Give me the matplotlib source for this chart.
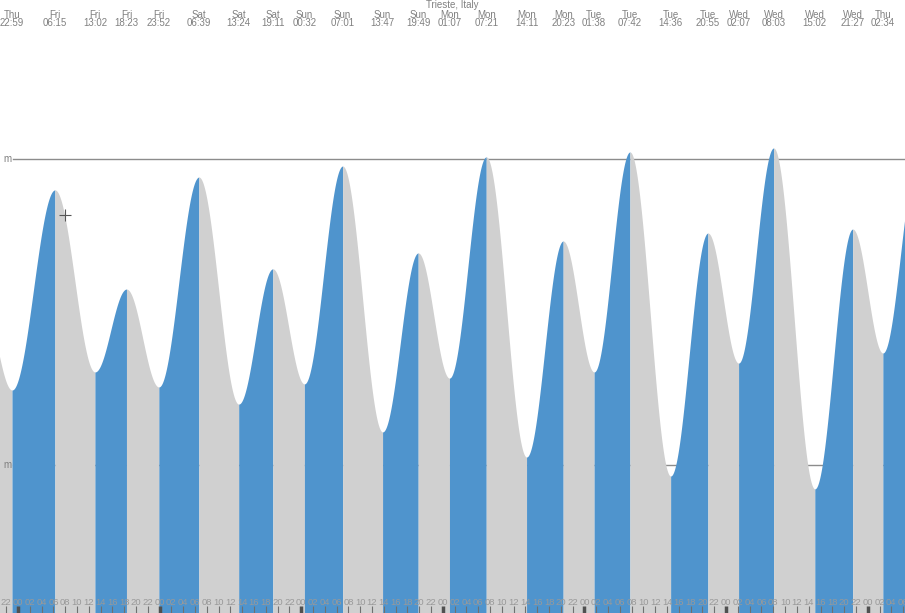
import numpy as np
import matplotlib.pyplot as plt
from matplotlib.ticker import MultipleLocator, FuncFormatter
from matplotlib.transforms import blended_transform_factory

plt.rcParams['font.family'] = ['Liberation Sans', 'DejaVu Sans']

# Tide extremes for Trieste (day, time, height in m)
days = ['Thu', 'Fri', 'Fri', 'Fri', 'Fri', 'Sat', 'Sat', 'Sat', 'Sun', 'Sun', 'Sun', 'Sun',
        'Mon', 'Mon', 'Mon', 'Mon', 'Tue', 'Tue', 'Tue', 'Tue', 'Wed', 'Wed', 'Wed', 'Wed', 'Thu']
times = ['22:59', '06:15', '13:02', '18:23', '23:52', '06:39', '13:24', '19:11', '00:32',
         '07:01', '13:47', '19:49', '01:07', '07:21', '14:11', '20:23', '01:38', '07:42',
         '14:36', '20:55', '02:07', '08:03', '15:02', '21:27', '02:34']
heights = [0.245, 0.899, 0.304, 0.575, 0.255, 0.941, 0.199, 0.641, 0.265, 0.977, 0.108, 0.693,
           0.284, 1.007, 0.026, 0.732, 0.304, 1.023, -0.036, 0.758, 0.333, 1.036, -0.078, 0.771,
           0.366]

# extremes just outside the window (needed for the curve at the edges)
prev_time, prev_height = '17:55', 0.54   # Thu, before first label
next_time, next_height = '08:30', 1.00   # Thu, after last label

# current time marker (Fri ~07:58)
now_time, now_height = '07:58', 0.817

place = 'Trieste, Italy'


def hours(day_no, hhmm):
    h, m = hhmm.split(':')
    return day_no * 24 + int(h) + int(m) / 60


# hours relative to Friday 00:00
t_ext = []
day_no = -1
for i, d in enumerate(days):
    if i > 0 and d != days[i - 1]:
        day_no += 1
    t_ext.append(hours(day_no, times[i]))

t_all = [hours(-1, prev_time)] + t_ext + [hours(day_no, next_time)]
h_all = [prev_height] + heights + [next_height]

blue = '#4f94cd'
grey = '#d0d0d0'
txt = '#808080'

x0, x1 = -3.05, 150.32
y0, y1 = -0.4837, 1.5196

fig = plt.figure(figsize=(9.05, 6.13), dpi=100)
ax = fig.add_axes([0, 0, 1, 1])
ax.set_xlim(x0, x1)
ax.set_ylim(y0, y1)

# reference lines (behind the water)
for lev in (0, 1):
    ax.plot([-0.85, x1], [lev, lev], color='#8c8c8c', lw=1, zorder=1)
    ax.text(-1.86, lev, 'm', color=txt, fontsize=7, ha='center', va='center')

# tide curve: blue while rising, grey while falling
for i in range(len(t_all) - 1):
    ta, tb = t_all[i], t_all[i + 1]
    ha, hb = h_all[i], h_all[i + 1]
    tt = np.linspace(ta, tb, 80)
    hh = ha + (hb - ha) * (1 - np.cos(np.pi * (tt - ta) / (tb - ta))) / 2
    ax.fill_between(tt, y0, hh, color=blue if hb > ha else grey, lw=0, zorder=2)

# now marker
ax.plot(hours(0, now_time), now_height, marker='+', color='#555555', ms=8, mew=0.8, zorder=4)

# labels at top
trans = blended_transform_factory(ax.transData, ax.transAxes)
for t, d, tm in zip(t_ext, days, times):
    ax.text(t, 1 - 15 / 613, d, transform=trans, ha='center', va='center', fontsize=7, color=txt)
    ax.text(t, 1 - 23.5 / 613, tm, transform=trans, ha='center', va='center', fontsize=7, color=txt)
ax.text(0.5, 1 - 5 / 613, place, transform=ax.transAxes, ha='center', va='center',
        fontsize=7, color=txt)

# hour ticks
ax.xaxis.set_major_locator(MultipleLocator(24))
ax.xaxis.set_minor_locator(MultipleLocator(2))
fmt = FuncFormatter(lambda x, p: f"{int(round(x)) % 24:02d}")
ax.xaxis.set_major_formatter(fmt)
ax.xaxis.set_minor_formatter(fmt)
ax.tick_params(axis='x', which='major', direction='in', length=5, width=2.5, color='#505050',
               pad=-10.7, labelsize=6.8, labelcolor='#999999')
ax.tick_params(axis='x', which='minor', direction='in', length=5, width=0.8, color='#707070',
               pad=-10.7, labelsize=6.8, labelcolor='#999999')
for lab in ax.get_xticklabels(which='both'):
    lab.set_zorder(5)
ax.set_yticks([])
for s in ax.spines.values():
    s.set_visible(False)
ax.set_axisbelow(False)

fig.savefig('out.png', dpi=100)
